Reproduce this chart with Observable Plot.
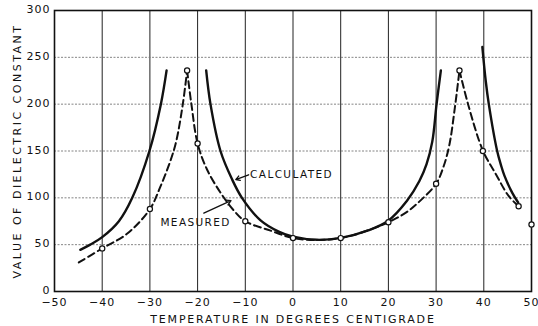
<!DOCTYPE html>
<html><head><meta charset="utf-8">
<script src="https://cdn.jsdelivr.net/npm/d3@7"></script>
<script src="https://cdn.jsdelivr.net/npm/@observablehq/plot@0.6"></script>
<style>
html,body{margin:0;padding:0;background:#fff;}
svg{display:block;}
g[aria-label="x-axis tick label"] text, g[aria-label="y-axis tick label"] text{letter-spacing:1px;}
g[aria-label="x-axis label"] text{letter-spacing:1.8px;}
g[aria-label="y-axis label"] text{letter-spacing:2.5px;}
g[aria-label="text"] text{letter-spacing:1.4px;}
</style></head><body><div id="chart"></div>
<script>
// Tick values
const xTicks = [-50,-40,-30,-20,-10,0,10,20,30,40,50];
const yTicks = [0,50,100,150,200,250,300];

// Calculated curve (solid), three branches [temperature, dielectric constant]
const calcA = [[-44.6,44.5],[-42.5,50],[-40,58],[-36.5,75],[-33.7,100],[-30.1,150],[-27.7,200],[-26.5,236]];
const calcB = [[-18.2,236],[-17.3,200],[-15.2,150],[-12.8,120],[-10.7,100],[-6.8,76],[-3,64],[0,58.5],[5,55.2],[10,57.2],[15.6,65],[19.8,75],[23.9,97],[26.5,118],[28,136],[29.2,160],[30.1,200],[31.0,236]];
const calcC = [[39.7,261],[40.4,225],[41.05,200],[42.8,150],[43.6,135],[44.3,124],[46,105],[47.2,95]];

// Measured curve (dashed), three branches
const measA = [[-44.9,31],[-40,46],[-34.8,61.6],[-30,88],[-27.8,112],[-25.8,138],[-24.5,160],[-23.1,200],[-22.2,236]];
const measB = [[-22.2,236],[-21.3,200],[-20,158],[-18,130],[-15,104],[-12.5,87],[-10,75],[-4.7,65],[0,57],[5,55],[10,57],[15,64],[20,74],[23.9,85],[26.7,97],[30,115],[31.6,134],[32.8,157],[33.9,195],[34.9,236]];
const measC = [[34.9,236],[36.7,200],[39.8,150.5],[42.45,126],[45.2,102],[47.3,91]];

// Measured points (open circles)
const measPts = [[-40,46],[-30,88],[-22.2,236],[-20,158],[-10,75],[0,57],[10,57],[20,74],[30,115],[34.9,236],[39.8,150],[47.3,91],[50,71.5]];

// Annotations (data units)
const annoLabels = ["CALCULATED","MEASURED"];
const annoTextX = [-9.0,-27.8];
const annoTextY = [124.6,73];
const annoFromX = [-9.3,-18.7];
const annoFromY = [124.6,83.6];
const annoTipX = [-12.0,-13.0];
const annoTipY = [119.5,97];

const rows = (pts, seg) => pts.map(([x,y]) => ({x, y, seg}));
const calcRows = [...rows(calcA,"A"), ...rows(calcB,"B"), ...rows(calcC,"C")];
const measRows = [...rows(measA,"A"), ...rows(measB,"B"), ...rows(measC,"C")];
const ptRows = rows(measPts, "p");
const annoRows = annoLabels.map((label,i) => ({label, tx:annoTextX[i], ty:annoTextY[i], x1:annoFromX[i], y1:annoFromY[i], x2:annoTipX[i], y2:annoTipY[i]}));

const chart = Plot.plot({
  width: 538, height: 326,
  marginLeft: 54, marginRight: 7, marginTop: 10, marginBottom: 35,
  style: {fontFamily: "'DejaVu Sans', sans-serif", fontSize: "11px", color: "#111", background: "#fff"},
  x: {domain: [-50, 50]},
  y: {domain: [0, 300]},
  marks: [
    Plot.ruleX(xTicks.slice(1,-1), {stroke: "#222", strokeWidth: 1}),
    Plot.ruleY(yTicks.slice(1,-1), {stroke: "#777", strokeWidth: 0.9, strokeDasharray: "2,1.5"}),
    Plot.frame({stroke: "#111", strokeWidth: 1.6}),
    Plot.axisX({ticks: xTicks, tickSize: 0, tickPadding: 7, fontSize: 11,
      label: "TEMPERATURE IN DEGREES CENTIGRADE", labelAnchor: "center", labelArrow: "none", labelOffset: 31}),
    Plot.axisY({ticks: yTicks, tickSize: 0, tickPadding: 4, fontSize: 11, dy: -1,
      label: "VALUE OF DIELECTRIC CONSTANT", labelAnchor: "center", labelArrow: "none", labelOffset: 41}),
    Plot.line(calcRows, {x: "x", y: "y", z: "seg", curve: "catmull-rom", stroke: "#111", strokeWidth: 2.4}),
    Plot.line(measRows, {x: "x", y: "y", z: "seg", curve: "catmull-rom", stroke: "#111", strokeWidth: 2, strokeDasharray: "7,4"}),
    Plot.dot(ptRows, {x: "x", y: "y", r: 2.6, fill: "white", stroke: "#111", strokeWidth: 1.2}),
    Plot.arrow(annoRows, {x1: "x1", y1: "y1", x2: "x2", y2: "y2", bend: 0, headLength: 6, stroke: "#111", strokeWidth: 1.3}),
    Plot.text(annoRows, {x: "tx", y: "ty", text: "label", textAnchor: "start", fontSize: 10.5, fill: "#111"})
  ]
});
document.getElementById("chart").appendChild(chart);
</script></body></html>
